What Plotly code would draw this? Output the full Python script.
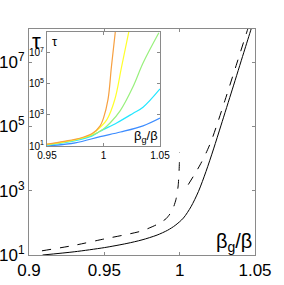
import plotly.graph_objects as go

# ---- main panel data (x = beta_g/beta, y = log10 tau) ----
solid_x = [0.909, 0.93, 0.95, 0.965, 0.975, 0.985, 0.992, 0.997, 1.0025, 1.0075, 1.0125,
           1.0175, 1.0225, 1.0275, 1.035, 1.0425, 1.0475, 1.049]
solid_logtau = [1.0, 1.10, 1.23, 1.36, 1.47, 1.62, 1.77, 1.92, 2.15, 2.5, 2.98,
                3.6, 4.3, 5.04, 6.16, 7.29, 8.04, 8.27]

dash1_x = [0.9086, 0.93, 0.95, 0.965, 0.975, 0.985, 0.991, 0.995, 0.9975, 0.999, 0.9995, 0.9998, 0.9999]
dash1_logtau = [1.13, 1.3, 1.5, 1.64, 1.75, 1.95, 2.13, 2.38, 2.72, 3.15, 3.5, 3.85, 4.19]

dash2_x = [1.0057, 1.0095, 1.0135, 1.0175, 1.021, 1.0248, 1.03, 1.038, 1.0454, 1.047]
dash2_logtau = [3.19, 3.48, 3.8, 4.17, 4.55, 5.06, 5.8, 6.97, 8.06, 8.3]

# ---- inset data ----
orange_x = [0.95, 0.965, 0.979, 0.99, 0.997, 1.0, 1.004, 1.007, 1.0105]
orange_logtau = [1.12, 1.3, 1.5, 1.8, 2.3, 2.8, 4.0, 6.1, 8.4]
yellow_x = [0.95, 0.979, 0.99, 0.997, 1.003, 1.010, 1.016, 1.0225]
yellow_logtau = [1.1, 1.48, 1.78, 2.2, 2.7, 4.0, 6.1, 8.4]
green_x = [0.95, 0.975, 0.99, 1.0, 1.006, 1.015, 1.026, 1.035, 1.049]
green_logtau = [1.08, 1.4, 1.7, 2.1, 2.5, 3.3, 4.8, 6.35, 8.3]
cyan_x = [0.95, 0.975, 0.99, 0.997, 1.012, 1.026, 1.035, 1.05]
cyan_logtau = [1.05, 1.35, 1.65, 1.95, 2.5, 3.1, 3.5, 4.68]
blue_x = [0.95, 0.975, 0.997, 1.015, 1.035, 1.05]
blue_logtau = [1.0, 1.2, 1.6, 1.9, 2.3, 2.8]

main_xticks = [0.9, 0.95, 1.0, 1.05]
main_xticktext = ["0.9", "0.95", "1", "1.05"]
main_yticks = [1e1, 1e3, 1e5, 1e7]
main_yticktext = ["10<sup>1</sup>", "10<sup>3</sup>", "10<sup>5</sup>", "10<sup>7</sup>"]
inset_xticks = [0.95, 1.0, 1.05]
inset_xticktext = ["0.95", "1", "1.05"]
inset_yticks = [1e1, 1e3, 1e5, 1e7]
inset_yticktext = ["10<sup>1</sup>", "10<sup>3</sup>", "10<sup>5</sup>", "10<sup>7</sup>"]

def tau(logs):
    return [10 ** v for v in logs]

FONT = "Liberation Sans, Arial, sans-serif"
GREY = "#8a8a8a"

fig = go.Figure()
fig.add_trace(go.Scatter(x=solid_x, y=tau(solid_logtau), mode="lines",
                         line=dict(color="black", width=1, shape="spline", smoothing=0.8),
                         xaxis="x", yaxis="y"))
fig.add_trace(go.Scatter(x=dash1_x, y=tau(dash1_logtau), mode="lines",
                         line=dict(color="black", width=1, dash="dash", shape="spline", smoothing=0.6),
                         xaxis="x", yaxis="y"))
fig.add_trace(go.Scatter(x=dash2_x, y=tau(dash2_logtau), mode="lines",
                         line=dict(color="black", width=1, dash="dash", shape="spline", smoothing=0.8),
                         xaxis="x", yaxis="y"))

for xs, ys, col in [(blue_x, blue_logtau, "#3c8cff"), (cyan_x, cyan_logtau, "#22e6ff"),
                    (green_x, green_logtau, "#98f07c"), (yellow_x, yellow_logtau, "#ffff2a"),
                    (orange_x, orange_logtau, "#f7a040")]:
    fig.add_trace(go.Scatter(x=xs, y=tau(ys), mode="lines", line=dict(color=col, width=1.2, shape="spline"),
                             xaxis="x2", yaxis="y2"))

axis_common = dict(showgrid=False, zeroline=False, showline=True, mirror="ticks", linecolor=GREY, linewidth=1,
                   ticks="inside", tickcolor=GREY, ticklen=3, automargin=False)

fig.update_layout(
    width=284, height=285, autosize=False,
    margin=dict(l=0, r=0, t=0, b=0),
    paper_bgcolor="white", plot_bgcolor="white",
    showlegend=False,
    font=dict(family=FONT, color="black"),
    xaxis=dict(domain=[29 / 284, 255 / 284], range=[0.9, 1.05], anchor="y",
               tickvals=main_xticks, ticktext=main_xticktext, tickfont=dict(size=17), **axis_common),
    yaxis=dict(domain=[1 - 255 / 285, 1 - 29 / 285], type="log", range=[1, 8.03], anchor="x",
               tickvals=main_yticks, ticktext=main_yticktext, tickfont=dict(size=17), **axis_common),
    xaxis2=dict(domain=[47 / 284, 160 / 284], range=[0.95, 1.05], anchor="y2",
                tickvals=inset_xticks, ticktext=inset_xticktext, tickfont=dict(size=10), **axis_common),
    yaxis2=dict(domain=[1 - 146 / 285, 1 - 32 / 285], type="log", range=[1, 8.35], anchor="x2",
                tickvals=inset_yticks, ticktext=inset_yticktext, tickfont=dict(size=10), **axis_common),
    annotations=[
        dict(text="τ", xref="paper", yref="paper", x=30 / 284, y=1 - 27 / 285, xanchor="left", yanchor="top",
             showarrow=False, font=dict(size=22, family=FONT)),
        dict(text="β<sub>g</sub>/β", xref="paper", yref="paper", x=254 / 284, y=1 - 257 / 285,
             xanchor="right", yanchor="bottom", showarrow=False, font=dict(size=20, family=FONT)),
        dict(text="τ", xref="paper", yref="paper", x=50 / 284, y=1 - 32 / 285, xanchor="left", yanchor="top",
             showarrow=False, font=dict(size=13, family=FONT)),
        dict(text="β<sub>g</sub>/β", xref="paper", yref="paper", x=160 / 284, y=1 - 147 / 285,
             xanchor="right", yanchor="bottom", showarrow=False, font=dict(size=13, family=FONT)),
    ],
)

fig.write_html("out.html", config={"displayModeBar": False},
               post_script="document.body.style.margin='0';")
